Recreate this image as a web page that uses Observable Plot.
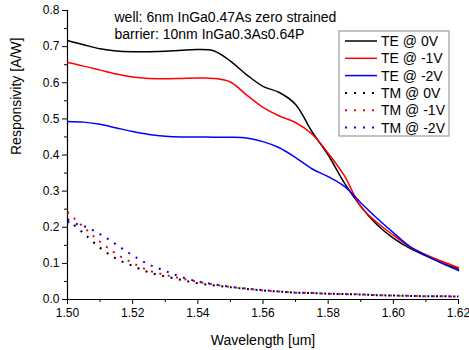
<!DOCTYPE html>
<html><head><meta charset="utf-8">
<script src="https://cdn.jsdelivr.net/npm/d3@7"></script>
<script src="https://cdn.jsdelivr.net/npm/@observablehq/plot@0.6"></script>
<style>
body{margin:0;background:#fff;}
#chart{position:relative;width:469px;height:350px;}
</style></head><body><div id="chart"></div>
<script>
const wavelengths = [1.500,1.505,1.510,1.515,1.520,1.525,1.530,1.535,1.540,1.545,1.550,1.555,1.560,1.565,1.570,1.575,1.580,1.585,1.590,1.595,1.600,1.605,1.610,1.615,1.620];
const teAt0V  = [0.717,0.705,0.694,0.688,0.686,0.686,0.687,0.690,0.692,0.688,0.660,0.622,0.590,0.573,0.540,0.465,0.400,0.322,0.258,0.207,0.170,0.142,0.121,0.101,0.084];
const teAtM1V = [0.656,0.646,0.635,0.624,0.616,0.612,0.611,0.612,0.613,0.612,0.602,0.566,0.532,0.508,0.490,0.458,0.405,0.342,0.257,0.213,0.178,0.146,0.124,0.105,0.088];
const teAtM2V = [0.493,0.491,0.485,0.475,0.465,0.457,0.452,0.450,0.450,0.449,0.449,0.447,0.437,0.420,0.393,0.362,0.340,0.313,0.268,0.225,0.185,0.147,0.122,0.100,0.080];
const tmAt0V  = [0.222,0.183,0.143,0.113,0.093,0.075,0.064,0.054,0.045,0.039,0.034,0.029,0.025,0.022,0.019,0.018,0.016,0.015,0.014,0.012,0.011,0.010,0.009,0.009,0.008];
const tmAtM1V = [0.242,0.200,0.160,0.126,0.101,0.080,0.068,0.058,0.049,0.041,0.035,0.030,0.025,0.022,0.019,0.018,0.016,0.015,0.014,0.012,0.011,0.010,0.009,0.009,0.008];
const tmAtM2V = [0.215,0.203,0.181,0.152,0.122,0.097,0.079,0.062,0.050,0.042,0.035,0.030,0.026,0.022,0.019,0.018,0.016,0.015,0.014,0.012,0.011,0.010,0.009,0.009,0.008];

const seriesNames = ["TE @ 0V","TE @ -1V","TE @ -2V","TM @ 0V","TM @ -1V","TM @ -2V"];
const seriesColors = ["#000000","#ff0000","#0000ff","#000000","#ff0000","#0000ff"];
const xTicks = [1.50,1.52,1.54,1.56,1.58,1.60,1.62];
const xMinorTicks = [1.51,1.53,1.55,1.57,1.59,1.61];
const yTicks = [0,0.1,0.2,0.3,0.4,0.5,0.6,0.7,0.8];
const yMinorTicks = [0.05,0.15,0.25,0.35,0.45,0.55,0.65,0.75];
const annotation = "well: 6nm InGa0.47As zero strained\nbarrier: 10nm InGa0.3As0.64P";
const xLabel = "Wavelength [um]";
const yLabel = "Responsivity [A/W]";

const teSeries = [teAt0V, teAtM1V, teAtM2V];
const tmSeries = [tmAt0V, tmAtM1V, tmAtM2V];
const teRows = teSeries.flatMap((vals, k) => wavelengths.map((w, i) => ({w, v: vals[i], s: seriesNames[k]})));
const tmRows = tmSeries.flatMap((vals, k) => wavelengths.map((w, i) => ({w, v: vals[i], s: seriesNames[k + 3]})));

const font = "'Liberation Sans', Arial, sans-serif";
const chart = Plot.plot({
  width: 469, height: 350,
  marginLeft: 67, marginRight: 11, marginTop: 10, marginBottom: 51,
  style: {fontFamily: font, fontSize: "12px", color: "#000", background: "#fff", overflow: "visible"},
  x: {domain: [1.50, 1.62]},
  y: {domain: [0, 0.8]},
  color: {domain: seriesNames, range: seriesColors},
  marks: [
    Plot.axisX(xMinorTicks, {tickSize: 3, tickFormat: () => "", label: null, stroke: "#000"}),
    Plot.axisX(xTicks, {tickSize: 5, tickPadding: 4, tickFormat: d3.format(".2f"), label: null, fontSize: 12, stroke: "#000"}),
    Plot.axisY(yMinorTicks, {tickSize: 3, tickFormat: () => "", label: null, stroke: "#000"}),
    Plot.axisY(yTicks, {tickSize: 5, tickPadding: 3, tickFormat: d3.format(".1f"), label: null, fontSize: 12, stroke: "#000"}),
    Plot.ruleX([1.50], {stroke: "#000", strokeWidth: 1.2}),
    Plot.ruleY([0], {stroke: "#000", strokeWidth: 1.2}),
    Plot.line(tmRows, {x: "w", y: "v", z: "s", stroke: "s", strokeWidth: 2, strokeDasharray: "2,6.6", strokeLinecap: "butt", curve: "catmull-rom"}),
    Plot.line(teRows, {x: "w", y: "v", z: "s", stroke: "s", strokeWidth: 1.5, curve: "catmull-rom"}),
    Plot.text([xLabel], {frameAnchor: "bottom", dy: 41, lineAnchor: "middle", fontSize: 14}),
    Plot.text([yLabel], {frameAnchor: "left", rotate: -90, dx: -51, fontSize: 14}),
    Plot.text([annotation], {frameAnchor: "top-left", textAnchor: "start", lineAnchor: "top", dx: 47, dy: 0, fontSize: 14, lineHeight: 1.2})
  ]
});
document.getElementById("chart").appendChild(chart);

// legend inside the plot
const svg = d3.select(chart);
const lg = svg.append("g").attr("transform", "translate(339,31)").style("font-family", font).attr("text-anchor", "start");
lg.append("rect").attr("width", 110).attr("height", 105).attr("fill", "#fff").attr("stroke", "#888").attr("stroke-width", 1);
seriesNames.forEach((name, i) => {
  const y = 10 + i * 17.3;
  lg.append("line").attr("x1", 6).attr("x2", 38).attr("y1", y).attr("y2", y)
    .attr("stroke", seriesColors[i]).attr("stroke-width", i < 3 ? 1.5 : 2)
    .attr("stroke-dasharray", i < 3 ? null : "2,7");
  lg.append("text").attr("x", 42).attr("y", y).attr("dy", "0.36em").attr("text-anchor", "start")
    .attr("font-size", 14).attr("fill", "#000").text(name);
});
</script></body></html>
